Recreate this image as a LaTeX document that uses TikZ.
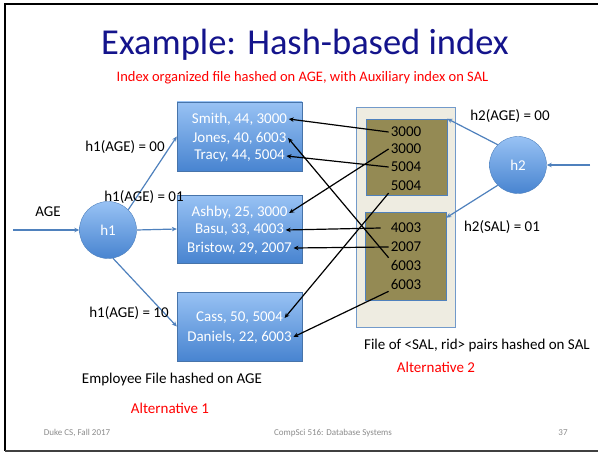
\documentclass[tikz,border=0pt]{standalone}
\usepackage{fontspec}
\setmainfont{Carlito}
\usetikzlibrary{arrows.meta}

\definecolor{accblue}{RGB}{79,129,189}
\definecolor{boxtop}{RGB}{152,194,244}
\definecolor{boxbot}{RGB}{72,132,208}
\definecolor{olivefill}{RGB}{148,138,84}
\definecolor{panelfill}{RGB}{238,236,225}
\definecolor{titleblue}{RGB}{20,20,140}
\definecolor{footgray}{RGB}{140,140,140}

\begin{document}
\begin{tikzpicture}[
    x=1pt, y=-1pt,
    >={Stealth[length=5pt,width=4.5pt]},
    font=\fontsize{15}{18}\selectfont,
    recbox/.style={draw=accblue!90!black, top color=boxtop, bottom color=boxbot, minimum width=125pt, minimum height=69pt},
    recline/.style={text=white, inner sep=1.5pt},
    hashfn/.style={circle, draw=accblue, top color=boxtop, bottom color=boxbot, minimum size=57pt, text=white},
    panel/.style={draw=accblue!80, fill=panelfill, thick},
    bucket/.style={draw=accblue, fill=olivefill, semithick, minimum width=81pt},
    entry/.style={inner sep=2pt},
    ptr/.style={->, line width=1.2pt, draw=black},
    hflow/.style={->, line width=1.2pt, draw=accblue},
    redlbl/.style={text=red},
    foot/.style={font=\fontsize{9}{11}\selectfont, text=footgray}
]
\useasboundingbox (0,0) rectangle (598,452);
\fill[white] (0,0) rectangle (598,452);

% Slide frame
\draw[line width=2pt] (598,4) -- (5,4) -- (5,451);
\draw[line width=2pt, black!75] (5,451) -- (598,451);

% Title
\node[font=\fontsize{36.5}{40}\selectfont, text=titleblue] (title) at (305,45) {Example: Hash-based index};
\node[redlbl, font=\fontsize{14.5}{17}\selectfont] (subtitle) at (302.5,78) {Index organized file hashed on AGE, with Auxiliary index on SAL};

% Employee file (hashed on AGE)
\node[recbox] (box1) at (239.5,136.5) {};
\node[recbox, minimum height=68pt] (box2) at (239.5,229) {};
\node[recbox] (box3) at (239.5,326.5) {};
\node[recline] (smith) at (239.5,119) {Smith, 44, 3000};
\node[recline] (jones) at (239.5,138) {Jones, 40, 6003};
\node[recline] (tracy) at (239.5,156) {Tracy, 44, 5004};
\node[recline] (ashby) at (239.5,213) {Ashby, 25, 3000};
\node[recline] (basu) at (239.5,230) {Basu, 33, 4003};
\node[recline] (bristow) at (239.5,248) {Bristow, 29, 2007};
\node[recline] (cass) at (239.5,318) {Cass, 50, 5004};
\node[recline] (daniels) at (239.5,337) {Daniels, 22, 6003};

% Hash function on AGE
\node[hashfn] (h1) at (108,230) {h1};
\coordinate (agein) at (13,230);
\node (age) at (48,212) {AGE};
\draw[hflow] (agein) -- (h1.west);
\draw[hflow] (h1.45) -- (box1.west);
\draw[hflow] (h1.east) -- (box2.west);
\draw[hflow] (h1.-80) -- (box3.west);
\node (lab00) at (125,147) {h1(AGE) = 00};
\node (lab01) at (144,197) {h1(AGE) = 01};
\node (lab10) at (129,313) {h1(AGE) = 10};

\node (empfile) at (172,379) {Employee File hashed on AGE};
\node[redlbl] (alt1) at (170,408) {Alternative 1};

% Auxiliary index file (hashed on SAL)
\node[panel, minimum width=99pt, minimum height=220pt] (panel) at (405.5,217) {};
\node[bucket, minimum height=76pt] (bk1) at (406.5,157) {};
\node[bucket, minimum height=88pt] (bk2) at (405.5,256) {};
\node[entry] (e1) at (406,132) {3000};
\node[entry] (e2) at (406,149) {3000};
\node[entry] (e3) at (406,167) {5004};
\node[entry] (e4) at (406,186) {5004};
\node[entry] (e5) at (406,228) {4003};
\node[entry] (e6) at (406,247) {2007};
\node[entry] (e7) at (406,265) {6003};
\node[entry] (e8) at (406,284) {6003};

% Hash function on SAL
\node[hashfn] (h2) at (518,165) {h2};
\coordinate (salin) at (590,165);
\draw[hflow] (salin) -- (h2.east);
\draw[hflow] (h2.135) -- (bk1.north east);
\draw[hflow] (h2.225) -- ([yshift=-6pt]bk2.north east);
\node (lab2a) at (510,116) {h2(AGE) = 00};
\node (lab2b) at (502,227) {h2(SAL) = 01};

\node (salfile) at (477,345) {File of <SAL, rid> pairs hashed on SAL};
\node[redlbl] (alt2) at (436,367) {Alternative 2};

% rid pointers
\draw[ptr] (e1.west) -- (smith.east);
\draw[ptr] (e2.west) -- (ashby.east);
\draw[ptr] (e3.west) -- (tracy.east);
\draw[ptr] (e4.south west) -- (cass.east);
\draw[ptr] ([xshift=-8pt]e5.west) -- (basu.east);
\draw[ptr] (e6.west) -- (bristow.east);
\draw[ptr] (e7.north west) -- (jones.east);
\draw[ptr] (e8.south west) -- (daniels.east);

% Footer
\node[foot] (fleft) at (77,433) {Duke CS, Fall 2017};
\node[foot] (fmid) at (333,433) {CompSci 516: Database Systems};
\node[foot] (fpage) at (563,433) {37};

\end{tikzpicture}
\end{document}
